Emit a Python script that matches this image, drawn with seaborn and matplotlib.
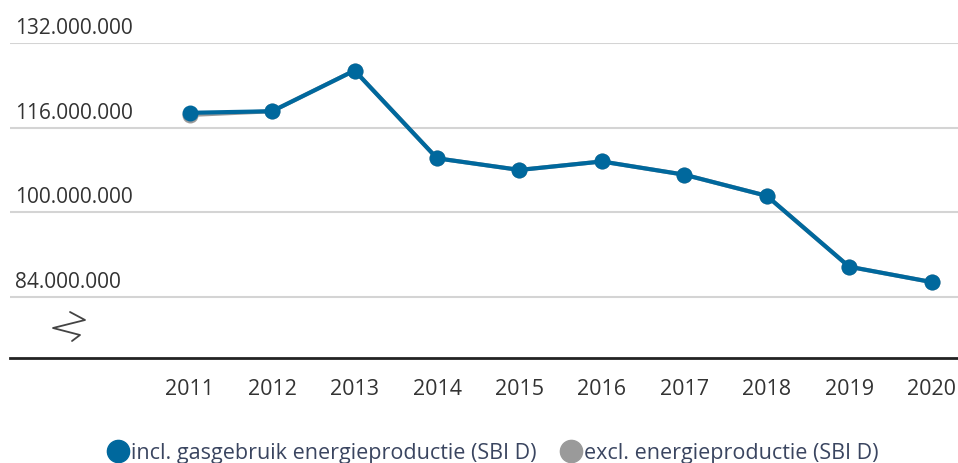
import matplotlib
matplotlib.use("Agg")
import matplotlib.pyplot as plt
import seaborn as sns
import pandas as pd
from matplotlib.lines import Line2D

years = [2011, 2012, 2013, 2014, 2015, 2016, 2017, 2018, 2019, 2020]
incl_values = [118.8, 119.1, 126.8, 110.2, 108.0, 109.6, 107.1, 103.1, 89.7, 86.8]  # million
excl_values = [118.4, 119.1, 126.8, 110.2, 108.0, 109.6, 107.1, 103.1, 89.7, 86.8]  # million
ytick_values = [84, 100, 116, 132]
ytick_labels = ["84.000.000", "100.000.000", "116.000.000", "132.000.000"]
series_names = ["incl. gasgebruik energieproductie (SBI D)", "excl. energieproductie (SBI D)"]

BLUE = "#00689d"
GREY = "#9a9a9a"
TXT = "#333333"

sns.set_style("white")
plt.rcParams["font.family"] = ["Open Sans", "DejaVu Sans"]

df = pd.DataFrame({
    "jaar": years * 2,
    "waarde": excl_values + incl_values,
    "serie": [series_names[1]] * len(years) + [series_names[0]] * len(years),
})

fig = plt.figure(figsize=(9.58, 4.63), dpi=100)
ax = fig.add_axes([10 / 958, 1 - 357.7 / 463, 948 / 958, (357.7 - 43) / 463])

sns.lineplot(data=df, x="jaar", y="waarde", hue="serie",
             hue_order=[series_names[1], series_names[0]],
             palette=[GREY, BLUE], marker="o", markersize=11.5,
             markeredgewidth=0, linewidth=3, ax=ax, legend=False)

ax.set_xlim(2008.82, 2020.32)
ax.set_ylim(72.5, 132)
ax.set_xticks(years)
ax.set_xticklabels([str(y) for y in years], fontsize=15.5, color=TXT)
ax.tick_params(axis="x", length=0, pad=15)
ax.set_yticks(ytick_values)
ax.set_yticklabels([])
ax.tick_params(axis="y", length=0)
ax.grid(axis="y", color="#d4d4d4", linewidth=1.5)
ax.set_axisbelow(True)
ax.set_xlabel("")
ax.set_ylabel("")
for s in ["top", "left", "right"]:
    ax.spines[s].set_visible(False)
ax.spines["bottom"].set_color("#222222")
ax.spines["bottom"].set_linewidth(2)

for v, lab in zip(ytick_values, ytick_labels):
    ax.annotate(lab, xy=(0, v), xycoords=("axes fraction", "data"),
                xytext=(5, 4), textcoords="offset pixels",
                ha="left", va="bottom", fontsize=15, color=TXT)

# axis break symbol
zx = [70, 85, 53, 80, 72]
zy = [312, 320, 328, 335, 341]
fig.add_artist(Line2D([x / 958 for x in zx], [1 - y / 463 for y in zy],
                      color="#444444", linewidth=1.3, transform=fig.transFigure))

handles = [Line2D([], [], marker="o", linestyle="", markersize=16, color=BLUE),
           Line2D([], [], marker="o", linestyle="", markersize=16, color=GREY)]
leg = fig.legend(handles, series_names, loc="center", bbox_to_anchor=(0.513, 1 - 453 / 463),
                 ncol=2, frameon=False, fontsize=15.5, handletextpad=0.0,
                 columnspacing=1.0, handlelength=1.2)
for t in leg.get_texts():
    t.set_color("#3a4560")

fig.savefig("out.png", dpi=100)
